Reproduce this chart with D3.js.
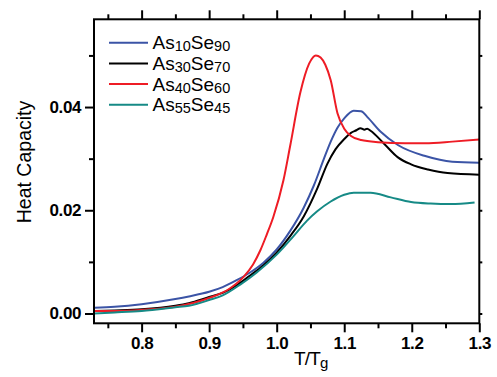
<!DOCTYPE html>
<html>
<head>
<meta charset="utf-8">
<script src="https://cdn.jsdelivr.net/npm/d3@7"></script>
<style>
  html, body { margin: 0; padding: 0; background: #fff; }
  svg { display: block; }
  .tick text { font-family: "Liberation Sans", Arial, sans-serif; font-weight: bold; font-size: 17px; letter-spacing: -0.4px; fill: #000; }
  .tick line { stroke: #000; stroke-width: 2; }
</style>
</head>
<body>
<svg id="chart" width="497" height="377"></svg>
<script>
// Heat capacity vs reduced temperature for As–Se glasses
const seriesNames = ["As10Se90", "As30Se70", "As40Se60", "As55Se45"];
const seriesLabels = [["As", "10", "Se", "90"], ["As", "30", "Se", "70"], ["As", "40", "Se", "60"], ["As", "55", "Se", "45"]];
const seriesColors = ["#3b54a6", "#000000", "#ee1c25", "#168a86"];

const tAs10Se90 = [0.730, 0.76, 0.80, 0.85, 0.87, 0.90, 0.92, 0.94, 0.96, 0.98, 1.00, 1.02, 1.04, 1.055, 1.07, 1.08, 1.09, 1.10, 1.114, 1.125, 1.134, 1.154, 1.18, 1.22, 1.26, 1.30];
const cAs10Se90 = [0.0011, 0.0013, 0.0018, 0.0028, 0.0033, 0.0042, 0.0051, 0.0064, 0.0079, 0.0098, 0.0124, 0.0160, 0.0205, 0.0248, 0.0300, 0.0333, 0.0360, 0.0378, 0.0393, 0.0392, 0.0381, 0.0352, 0.0326, 0.0305, 0.0294, 0.0292];

const tAs30Se70 = [0.730, 0.76, 0.80, 0.85, 0.87, 0.90, 0.92, 0.94, 0.96, 0.98, 1.00, 1.02, 1.04, 1.06, 1.075, 1.087, 1.10, 1.11, 1.118, 1.124, 1.130, 1.134, 1.139, 1.159, 1.179, 1.199, 1.224, 1.253, 1.30];
const cAs30Se70 = [0.0005, 0.0006, 0.0008, 0.0015, 0.0020, 0.0032, 0.0040, 0.0054, 0.0073, 0.0093, 0.0118, 0.0150, 0.0188, 0.0242, 0.0290, 0.0318, 0.0338, 0.0350, 0.0355, 0.0359, 0.0356, 0.0358, 0.0354, 0.0329, 0.0303, 0.0289, 0.0279, 0.0272, 0.0269];

const tAs40Se60 = [0.730, 0.76, 0.80, 0.85, 0.90, 0.93, 0.951, 0.965, 0.976, 0.985, 0.995, 1.010, 1.020, 1.035, 1.048, 1.058, 1.065, 1.072, 1.080, 1.090, 1.10, 1.11, 1.125, 1.15, 1.19, 1.22, 1.26, 1.30];
const cAs40Se60 = [0.0005, 0.0005, 0.0007, 0.0013, 0.0030, 0.0048, 0.0071, 0.0095, 0.0123, 0.0152, 0.0187, 0.0258, 0.0325, 0.0428, 0.0484, 0.0500, 0.0496, 0.0482, 0.0452, 0.0388, 0.0358, 0.0344, 0.0336, 0.0332, 0.0330, 0.0330, 0.0333, 0.0337];

const tAs55Se45 = [0.730, 0.76, 0.80, 0.85, 0.87, 0.90, 0.92, 0.946, 0.97, 1.00, 1.025, 1.045, 1.06, 1.08, 1.10, 1.114, 1.139, 1.169, 1.199, 1.228, 1.258, 1.293];
const cAs55Se45 = [0.0000, 0.0002, 0.0005, 0.0012, 0.0015, 0.0026, 0.0035, 0.0056, 0.0079, 0.0114, 0.0150, 0.0180, 0.0198, 0.0217, 0.0230, 0.0234, 0.0234, 0.0225, 0.0216, 0.0213, 0.0212, 0.0215];

const xMajorTicks = [0.8, 0.9, 1.0, 1.1, 1.2, 1.3];
const xMinorTicks = [0.75, 0.85, 0.95, 1.05, 1.15, 1.25];
const yMajorTicks = [0.00, 0.02, 0.04];
const yMinorTicks = [0.01, 0.03, 0.05];

const seriesT = [tAs10Se90, tAs30Se70, tAs40Se60, tAs55Se45];
const seriesC = [cAs10Se90, cAs30Se70, cAs40Se60, cAs55Se45];

const plotLeft = 94, plotRight = 479.3, plotTop = 19.3, plotBottom = 323.3;

const x = d3.scaleLinear().domain([0.7295, 1.3]).range([plotLeft, plotRight]);
const y = d3.scaleLinear().domain([-0.0019, 0.0570]).range([plotBottom, plotTop]);

const svg = d3.select("#chart");

svg.append("defs").append("clipPath").attr("id", "plotClip")
  .append("rect").attr("x", plotLeft).attr("y", plotTop)
  .attr("width", plotRight - plotLeft).attr("height", plotBottom - plotTop);

// curves
const line = d3.line().x(d => x(d[0])).y(d => y(d[1])).curve(d3.curveMonotoneX);
const plot = svg.append("g").attr("clip-path", "url(#plotClip)");
seriesNames.forEach((name, i) => {
  const pts = seriesT[i].map((t, k) => [t, seriesC[i][k]]);
  plot.append("path")
    .datum(pts)
    .attr("fill", "none")
    .attr("stroke", seriesColors[i])
    .attr("stroke-width", 2)
    .attr("stroke-linejoin", "round")
    .attr("d", line);
});

// axes
function strip(g) { g.select(".domain").remove(); }

svg.append("g").attr("transform", `translate(0,${plotBottom})`)
  .call(d3.axisBottom(x).tickValues(xMajorTicks).tickSize(9).tickPadding(5).tickFormat(d3.format(".1f")))
  .call(strip);
svg.append("g").attr("transform", `translate(0,${plotBottom})`)
  .call(d3.axisBottom(x).tickValues(xMinorTicks).tickSize(5).tickFormat(""))
  .call(strip);

svg.append("g").attr("transform", `translate(0,${plotTop})`)
  .call(d3.axisTop(x).tickValues(xMajorTicks).tickSize(9).tickFormat(""))
  .call(strip);
svg.append("g").attr("transform", `translate(0,${plotTop})`)
  .call(d3.axisTop(x).tickValues(xMinorTicks).tickSize(5).tickFormat(""))
  .call(strip);

svg.append("g").attr("transform", `translate(${plotLeft},0)`)
  .call(d3.axisLeft(y).tickValues(yMajorTicks).tickSize(9).tickPadding(4).tickFormat(d3.format(".2f")))
  .call(strip);
svg.append("g").attr("transform", `translate(${plotLeft},0)`)
  .call(d3.axisLeft(y).tickValues(yMinorTicks).tickSize(5).tickFormat(""))
  .call(strip);

svg.append("g").attr("transform", `translate(${plotRight},0)`)
  .call(d3.axisRight(y).tickValues(yMajorTicks.concat(yMinorTicks)).tickSize(3).tickFormat(""))
  .call(strip)
  .selectAll(".tick line").attr("stroke-width", 1.5);

// frame
svg.append("rect")
  .attr("x", plotLeft).attr("y", plotTop)
  .attr("width", plotRight - plotLeft).attr("height", plotBottom - plotTop)
  .attr("fill", "none").attr("stroke", "#000").attr("stroke-width", 2);

// axis titles
const xt = svg.append("text")
  .attr("x", 294).attr("y", 365)
  .attr("font-family", "Liberation Sans, Arial, sans-serif")
  .attr("font-size", 19).attr("letter-spacing", -0.8).attr("fill", "#000");
xt.append("tspan").text("T/T");
xt.append("tspan").attr("font-size", 15).attr("dy", 3).text("g");

svg.append("text")
  .attr("transform", "translate(30.5,162) rotate(-90)")
  .attr("text-anchor", "middle")
  .attr("font-family", "Liberation Sans, Arial, sans-serif")
  .attr("font-size", 19.5).attr("fill", "#000")
  .text("Heat Capacity");

// legend
const legend = svg.append("g");
seriesNames.forEach((name, i) => {
  const ly = 42.7 + i * 20.7;
  legend.append("line")
    .attr("x1", 109).attr("x2", 148).attr("y1", ly).attr("y2", ly)
    .attr("stroke", seriesColors[i]).attr("stroke-width", 2);
  const t = legend.append("text")
    .attr("x", 152.5).attr("y", ly + 6.5)
    .attr("font-family", "Liberation Sans, Arial, sans-serif")
    .attr("font-size", 19).attr("fill", "#000");
  const parts = seriesLabels[i];
  t.append("tspan").text(parts[0]);
  t.append("tspan").attr("font-size", 14.5).attr("dy", 2).text(parts[1]);
  t.append("tspan").attr("dy", -2).text(parts[2]);
  t.append("tspan").attr("font-size", 14.5).attr("dy", 2).text(parts[3]);
});
</script>
</body>
</html>
